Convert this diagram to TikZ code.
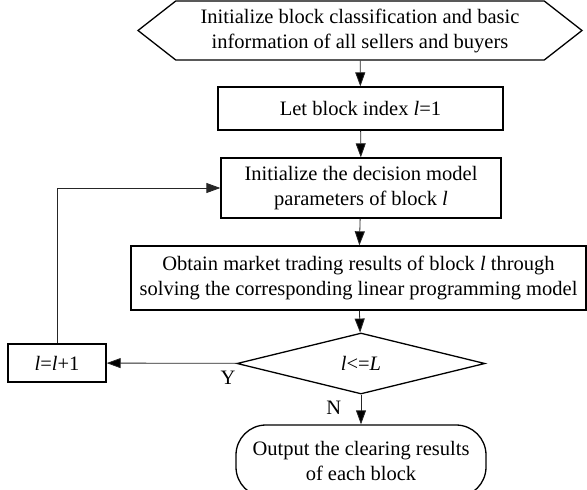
\documentclass[tikz,border=0pt]{standalone}
\usepackage{fontspec}
\setmainfont{Liberation Serif}
\usetikzlibrary{shapes.geometric,shapes.symbols,arrows.meta}

\tikzset{
  flowbox/.style={draw,line width=1.3pt,align=center,inner sep=2pt},
  hexbox/.style={flowbox,signal,signal to=west and east,signal pointer angle=76},
  decision/.style={flowbox,diamond,aspect=4,inner sep=0pt},
  terminal/.style={flowbox,rounded corners=30pt},
  link/.style={line width=0.8pt,draw=black!85,-{Triangle[length=14pt,width=10pt]}}
}

\begin{document}
\begin{tikzpicture}[x=1pt,y=-1pt,font=\fontsize{20.5}{25}\selectfont]
  \useasboundingbox (0,0) rectangle (587,490);
  \node (init) [hexbox,minimum width=444pt,minimum height=59pt] at (360,30.5)
    {Initialize block classification and basic\\information of all sellers and buyers};
  \node (start) [flowbox,minimum width=285pt,minimum height=43pt] at (360.5,108.5)
    {Let block index \textit{l}=1};
  \node (param) [flowbox,minimum width=280pt,minimum height=60pt] at (361,188)
    {Initialize the decision model\\parameters of block \textit{l}};
  \node (solve) [flowbox,minimum width=455pt,minimum height=64pt] at (358.5,278)
    {Obtain market trading results of block \textit{l} through\\solving the corresponding linear programming model};
  \node (check) [decision,minimum width=248pt,minimum height=61pt] at (361,363.5)
    {\textit{l}<=\textit{L}};
  \node (next) [flowbox,minimum width=98pt,minimum height=38pt] at (57,363)
    {\textit{l}=\textit{l}+1};
  \node (output) [terminal,minimum width=250pt,minimum height=72pt] at (361,461)
    {Output the clearing results\\of each block};
  \path[link]
    (init) edge (start)
    (start) edge (param)
    (param) edge (solve)
    (solve) edge (check)
    (check) edge node [pos=0.07,below=4pt] {Y} (next)
    (check) edge node [pos=0.45,left=16pt] {N} (output);
  \draw[link] (next.north) |- (param.west);
\end{tikzpicture}
\end{document}
